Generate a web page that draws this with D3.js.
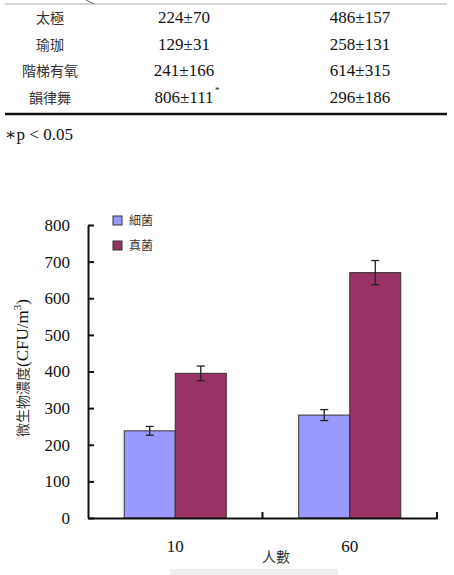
<!DOCTYPE html>
<html>
<head>
<meta charset="utf-8">
<script src="https://cdn.jsdelivr.net/npm/d3@7"></script>
<style>
  body { margin: 0; background: #fff; }
  svg { display: block; }
  .num { font-family: "Times New Roman", "Liberation Serif", "DejaVu Serif", serif; fill: #111; }
  .cjk { font-family: "Noto Sans CJK TC", "Noto Sans CJK SC", sans-serif; fill: #333; }
</style>
</head>
<body>
<svg width="454" height="575"></svg>
<script>
// table data
const activities = ["太極", "瑜珈", "階梯有氧", "韻律舞"];
const bacteriaCol = ["224±70", "129±31", "241±166", "806±111"];
const fungiCol = ["486±157", "258±131", "614±315", "296±186"];
const marked = [false, false, false, true];

// chart data
const categories = ["10", "60"];
const series = ["細菌", "真菌"];
const means = [[238, 281], [395, 670]];
const errors = [[12, 15], [20, 33]];
const yTicks = [0, 100, 200, 300, 400, 500, 600, 700, 800];
const colors = ["#9999FF", "#993366"];

const serif = '"Times New Roman", "Liberation Serif", serif';

const svg = d3.select("svg");

// ---- table ----
const rowY = d3.scaleLinear().domain([0, 3]).range([23, 103]);

svg.append("line")
  .attr("x1", 5).attr("x2", 447).attr("y1", 4).attr("y2", 4)
  .attr("stroke", "#aaa").attr("stroke-width", 1);
svg.append("line")
  .attr("x1", 86).attr("x2", 94).attr("y1", 0).attr("y2", 4)
  .attr("stroke", "#666").attr("stroke-width", 1);

const rows = svg.selectAll(".row")
  .data(activities)
  .enter().append("g")
  .attr("class", "row")
  .attr("transform", (d, i) => `translate(0,${rowY(i)})`);

rows.append("text")
  .attr("class", "cjk")
  .attr("x", 50)
  .attr("text-anchor", "middle")
  .attr("font-size", 14)
  .text(d => d);

rows.append("text")
  .attr("class", "num")
  .attr("font-family", serif)
  .attr("x", 184)
  .attr("text-anchor", "middle")
  .attr("font-size", 17)
  .text((d, i) => bacteriaCol[i]);

rows.filter((d, i) => marked[i])
  .append("text")
  .attr("class", "num")
  .attr("font-family", serif)
  .attr("x", 215)
  .attr("y", -10)
  .attr("font-size", 9)
  .text("*");

rows.append("text")
  .attr("class", "num")
  .attr("font-family", serif)
  .attr("x", 360)
  .attr("text-anchor", "middle")
  .attr("font-size", 17)
  .text((d, i) => fungiCol[i]);

svg.append("line")
  .attr("x1", 5).attr("x2", 447).attr("y1", 114).attr("y2", 114)
  .attr("stroke", "#111").attr("stroke-width", 2.5);

svg.append("text")
  .attr("class", "num")
  .attr("font-family", serif)
  .attr("x", 5)
  .attr("y", 140)
  .attr("font-size", 17)
  .text("∗p < 0.05");

// ---- bar chart ----
const x = d3.scaleBand().domain(categories).range([88, 437]);
const x1 = d3.scaleBand().domain(series).range([0, x.bandwidth()]).paddingOuter(0.71);
const y = d3.scaleLinear().domain([0, 800]).range([518, 225]);

const yAxis = d3.axisLeft(y)
  .tickValues(yTicks)
  .tickSizeInner(-6)
  .tickSizeOuter(0)
  .tickPadding(18);

const yAxisG = svg.append("g")
  .attr("transform", "translate(88,0)")
  .call(yAxis)
  .attr("font-family", serif);
yAxisG.selectAll("path, line").attr("stroke", "#111").attr("stroke-width", 2);
yAxisG.selectAll("text")
  .attr("class", "num")
  .attr("font-size", 17)
  .attr("fill", "#111");

const groups = svg.selectAll(".grp")
  .data(categories)
  .enter().append("g")
  .attr("class", "grp")
  .attr("transform", d => `translate(${x(d)},0)`);

groups.selectAll("rect")
  .data((d, ci) => series.map((s, si) => ({ s, si, v: means[si][ci], e: errors[si][ci] })))
  .enter().append("rect")
  .attr("x", d => x1(d.s))
  .attr("y", d => y(d.v))
  .attr("width", x1.bandwidth())
  .attr("height", d => y(0) - y(d.v))
  .attr("fill", d => colors[d.si])
  .attr("stroke", "#333")
  .attr("stroke-width", 1);

const err = groups.selectAll(".err")
  .data((d, ci) => series.map((s, si) => ({ s, si, v: means[si][ci], e: errors[si][ci] })))
  .enter().append("g")
  .attr("class", "err")
  .attr("stroke", "#222")
  .attr("stroke-width", 1.3);

err.append("line")
  .attr("x1", d => x1(d.s) + x1.bandwidth() / 2)
  .attr("x2", d => x1(d.s) + x1.bandwidth() / 2)
  .attr("y1", d => y(d.v + d.e))
  .attr("y2", d => y(d.v - d.e));
err.selectAll(".cap")
  .data(d => [d.v + d.e, d.v - d.e].map(val => ({ s: d.s, val })))
  .enter().append("line")
  .attr("x1", d => x1(d.s) + x1.bandwidth() / 2 - 4)
  .attr("x2", d => x1(d.s) + x1.bandwidth() / 2 + 4)
  .attr("y1", d => y(d.val))
  .attr("y2", d => y(d.val));

// x axis
const xAxis = d3.axisBottom(x).tickSize(0).tickPadding(22);
const xAxisG = svg.append("g")
  .attr("transform", `translate(0,${y(0)})`)
  .call(xAxis)
  .attr("font-family", serif);
xAxisG.select(".domain").attr("stroke", "#111").attr("stroke-width", 2);
xAxisG.selectAll("text")
  .attr("class", "num")
  .attr("font-size", 17)
  .attr("fill", "#111");

svg.selectAll(".xsep")
  .data(categories)
  .enter().append("line")
  .attr("class", "xsep")
  .attr("x1", d => x(d) + x.bandwidth())
  .attr("x2", d => x(d) + x.bandwidth())
  .attr("y1", y(0) - 6)
  .attr("y2", y(0) + 1)
  .attr("stroke", "#111")
  .attr("stroke-width", 2);

svg.append("text")
  .attr("class", "cjk")
  .attr("x", 276)
  .attr("y", 562)
  .attr("text-anchor", "middle")
  .attr("font-size", 14)
  .text("人數");

// y label
const yLabel = svg.append("text")
  .attr("transform", "translate(28,368) rotate(-90)")
  .attr("text-anchor", "middle")
  .attr("font-size", 17);
yLabel.append("tspan").attr("class", "cjk").attr("font-size", 14).text("微生物濃度");
yLabel.append("tspan").attr("class", "num").attr("font-family", serif).text("(CFU/m");
yLabel.append("tspan").attr("class", "num").attr("font-family", serif).attr("font-size", 11).attr("dy", -7).text("3");
yLabel.append("tspan").attr("class", "num").attr("font-family", serif).attr("dy", 7).text(")");

// legend
const legend = svg.selectAll(".legend")
  .data(series)
  .enter().append("g")
  .attr("class", "legend")
  .attr("transform", (d, i) => `translate(113,${216 + i * 25})`);
legend.append("rect")
  .attr("width", 9).attr("height", 9)
  .attr("fill", (d, i) => colors[i])
  .attr("stroke", "#333");
legend.append("text")
  .attr("class", "cjk")
  .attr("x", 16)
  .attr("y", 9)
  .attr("font-size", 12)
  .text(d => d);

// faint scan strip at the bottom
svg.append("rect")
  .attr("x", 170).attr("y", 569).attr("width", 168).attr("height", 6)
  .attr("fill", "#eeeeee");
</script>
</body>
</html>
